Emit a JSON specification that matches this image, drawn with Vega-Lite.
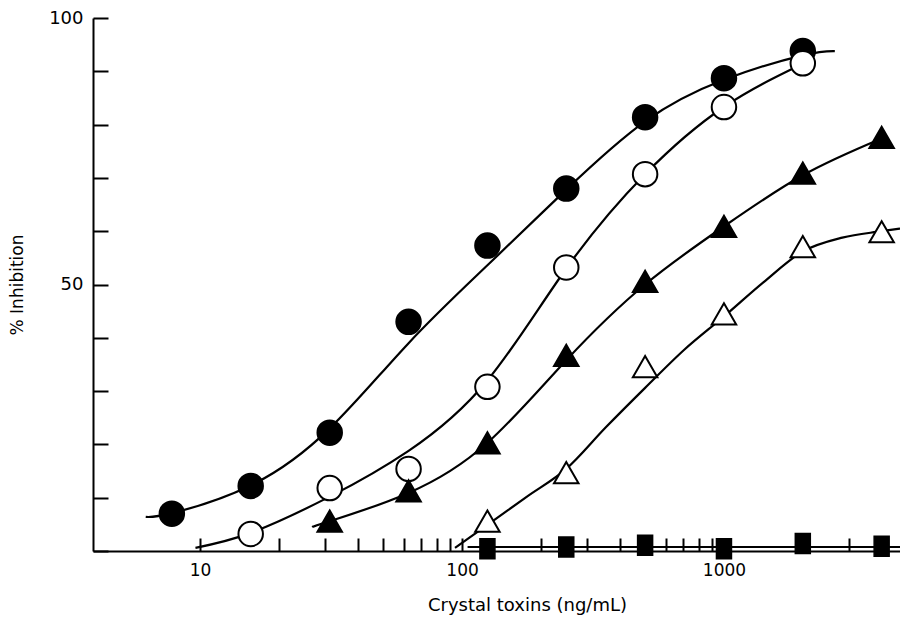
{
  "$schema": "https://vega.github.io/schema/vega-lite/v6.json",
  "width": 807,
  "height": 533,
  "autosize": {"type": "none"},
  "padding": {"left": 93, "top": 18, "right": 0, "bottom": 72},
  "background": "white",
  "config": {"view": {"stroke": null}, "font": "DejaVu Sans"},
  "datasets": {
    "points": [
      {"series": "A", "conc": 7.8, "pct": 7.0},
      {"series": "A", "conc": 15.6, "pct": 12.2},
      {"series": "A", "conc": 31.25, "pct": 22.2},
      {"series": "A", "conc": 62.5, "pct": 43.0},
      {"series": "A", "conc": 125, "pct": 57.3},
      {"series": "A", "conc": 250, "pct": 68.0},
      {"series": "A", "conc": 500, "pct": 81.4},
      {"series": "A", "conc": 1000, "pct": 88.7},
      {"series": "A", "conc": 2000, "pct": 93.8},
      {"series": "B", "conc": 15.6, "pct": 3.2},
      {"series": "B", "conc": 31.25, "pct": 11.8},
      {"series": "B", "conc": 62.5, "pct": 15.4},
      {"series": "B", "conc": 125, "pct": 30.8},
      {"series": "B", "conc": 250, "pct": 53.2},
      {"series": "B", "conc": 500, "pct": 70.7},
      {"series": "B", "conc": 1000, "pct": 83.3},
      {"series": "B", "conc": 2000, "pct": 91.5},
      {"series": "C", "conc": 31.25, "pct": 5.6},
      {"series": "C", "conc": 62.5, "pct": 11.3},
      {"series": "C", "conc": 125, "pct": 20.3},
      {"series": "C", "conc": 250, "pct": 36.7},
      {"series": "C", "conc": 500, "pct": 50.6},
      {"series": "C", "conc": 1000, "pct": 60.9},
      {"series": "C", "conc": 2000, "pct": 70.9},
      {"series": "C", "conc": 4000, "pct": 77.6},
      {"series": "D", "conc": 125, "pct": 5.6},
      {"series": "D", "conc": 250, "pct": 14.7},
      {"series": "D", "conc": 500, "pct": 34.6},
      {"series": "D", "conc": 1000, "pct": 44.5},
      {"series": "D", "conc": 2000, "pct": 57.1},
      {"series": "D", "conc": 4000, "pct": 59.9},
      {"series": "E", "conc": 125, "pct": 0.4},
      {"series": "E", "conc": 250, "pct": 0.75},
      {"series": "E", "conc": 500, "pct": 1.1},
      {"series": "E", "conc": 1000, "pct": 0.4},
      {"series": "E", "conc": 2000, "pct": 1.4},
      {"series": "E", "conc": 4000, "pct": 0.9}
    ],
    "curves": [
      {"series": "A", "conc": 6.2, "pct": 6.4},
      {"series": "A", "conc": 7.8, "pct": 7.1},
      {"series": "A", "conc": 15.6, "pct": 12.3},
      {"series": "A", "conc": 31.25, "pct": 23.0},
      {"series": "A", "conc": 62.5, "pct": 39.0},
      {"series": "A", "conc": 125, "pct": 53.6},
      {"series": "A", "conc": 250, "pct": 67.8},
      {"series": "A", "conc": 500, "pct": 80.6},
      {"series": "A", "conc": 1000, "pct": 88.4},
      {"series": "A", "conc": 2000, "pct": 93.0},
      {"series": "A", "conc": 2650, "pct": 93.8},
      {"series": "B", "conc": 9.6, "pct": 0.6},
      {"series": "B", "conc": 15.6, "pct": 3.4},
      {"series": "B", "conc": 31.25, "pct": 10.2},
      {"series": "B", "conc": 62.5, "pct": 18.8},
      {"series": "B", "conc": 125, "pct": 32.0},
      {"series": "B", "conc": 250, "pct": 53.0},
      {"series": "B", "conc": 500, "pct": 70.7},
      {"series": "B", "conc": 1000, "pct": 83.3},
      {"series": "B", "conc": 2000, "pct": 91.4},
      {"series": "C", "conc": 26.8, "pct": 4.5},
      {"series": "C", "conc": 31.25, "pct": 5.6},
      {"series": "C", "conc": 62.5, "pct": 10.9},
      {"series": "C", "conc": 125, "pct": 20.3},
      {"series": "C", "conc": 250, "pct": 35.8},
      {"series": "C", "conc": 500, "pct": 50.0},
      {"series": "C", "conc": 1000, "pct": 60.9},
      {"series": "C", "conc": 2000, "pct": 70.5},
      {"series": "C", "conc": 4000, "pct": 77.4},
      {"series": "D", "conc": 94, "pct": 0.6},
      {"series": "D", "conc": 125, "pct": 4.9},
      {"series": "D", "conc": 177, "pct": 10.2},
      {"series": "D", "conc": 250, "pct": 15.4},
      {"series": "D", "conc": 354, "pct": 23.2},
      {"series": "D", "conc": 500, "pct": 30.6},
      {"series": "D", "conc": 707, "pct": 37.8},
      {"series": "D", "conc": 1000, "pct": 44.0},
      {"series": "D", "conc": 1414, "pct": 50.4},
      {"series": "D", "conc": 2000, "pct": 56.2},
      {"series": "D", "conc": 2830, "pct": 58.8},
      {"series": "D", "conc": 4000, "pct": 60.0},
      {"series": "D", "conc": 4700, "pct": 60.5},
      {"series": "E", "conc": 105, "pct": 0.75},
      {"series": "E", "conc": 4700, "pct": 0.75}
    ]
  },
  "encoding": {
    "x": {
      "field": "conc",
      "type": "quantitative",
      "scale": {"type": "log", "domain": [3.9, 4700], "nice": false},
      "axis": {
        "title": "Crystal toxins (ng/mL)",
        "values": [10, 20, 30, 40, 50, 60, 70, 80, 90, 100, 200, 300, 400, 500, 600, 700, 800, 900, 1000, 2000, 3000, 4000],
        "labelExpr": "(datum.value == 10 || datum.value == 100 || datum.value == 1000) ? format(datum.value, 'd') : ''",
        "grid": false,
        "domainColor": "black",
        "domainWidth": 2,
        "tickColor": "black",
        "tickWidth": 2,
        "tickSize": -13,
        "labelColor": "black",
        "labelFontSize": 17,
        "labelPadding": 24,
        "labelFlush": false,
        "titleColor": "black",
        "titleFontSize": 18,
        "titleFontWeight": "normal",
        "titlePadding": 18,
        "titleX": 434
      }
    },
    "y": {
      "field": "pct",
      "type": "quantitative",
      "scale": {"domain": [0, 100], "nice": false},
      "axis": {
        "title": "% Inhibition",
        "values": [0, 10, 20, 30, 40, 50, 60, 70, 80, 90, 100],
        "labelExpr": "(datum.value == 50 || datum.value == 100) ? datum.label : ''",
        "grid": false,
        "domainColor": "black",
        "domainWidth": 2,
        "tickColor": "black",
        "tickWidth": 2,
        "tickSize": -15,
        "labelColor": "black",
        "labelFontSize": 18,
        "labelPadding": 25,
        "labelFlush": false,
        "titleColor": "black",
        "titleFontSize": 17,
        "titleFontWeight": "normal",
        "titlePadding": 22
      }
    }
  },
  "layer": [
    {
      "data": {"name": "curves"},
      "transform": [{"filter": "datum.series != 'D'"}],
      "mark": {"type": "line", "interpolate": "natural", "color": "black", "strokeWidth": 2.2},
      "encoding": {"detail": {"field": "series"}}
    },
    {
      "data": {"name": "curves"},
      "transform": [{"filter": "datum.series == 'D'"}],
      "mark": {"type": "line", "interpolate": "monotone", "color": "black", "strokeWidth": 2.2},
      "encoding": {"detail": {"field": "series"}}
    },
    {
      "data": {"name": "points"},
      "transform": [{"filter": "datum.series != 'E'"}],
      "mark": {"type": "point", "filled": true, "color": "white", "opacity": 1},
      "encoding": {
        "shape": {"field": "series", "type": "nominal", "scale": {"domain": ["A", "B", "C", "D"], "range": ["circle", "circle", "triangle-up", "triangle-up"]}, "legend": null},
        "size": {"field": "series", "type": "nominal", "scale": {"domain": ["A", "B", "C", "D"], "range": [600, 600, 500, 500]}, "legend": null}
      }
    },
    {
      "data": {"name": "points"},
      "transform": [{"filter": "datum.series != 'E'"}],
      "mark": {"type": "point", "stroke": "black", "strokeWidth": 2, "opacity": 1},
      "encoding": {
        "shape": {"field": "series", "type": "nominal", "scale": {"domain": ["A", "B", "C", "D"], "range": ["circle", "circle", "triangle-up", "triangle-up"]}, "legend": null},
        "fill": {"field": "series", "type": "nominal", "scale": {"domain": ["A", "B", "C", "D"], "range": ["black", "white", "black", "white"]}, "legend": null},
        "size": {"field": "series", "type": "nominal", "scale": {"domain": ["A", "B", "C", "D"], "range": [256, 256, 210, 210]}, "legend": null}
      }
    },
    {
      "data": {"name": "points"},
      "transform": [{"filter": "datum.series == 'E'"}],
      "mark": {"type": "point", "shape": "M-0.75,-1H0.75V1H-0.75Z", "filled": true, "color": "black", "stroke": "black", "strokeWidth": 1.5, "size": 400, "opacity": 1},
      "encoding": {}
    }
  ]
}
